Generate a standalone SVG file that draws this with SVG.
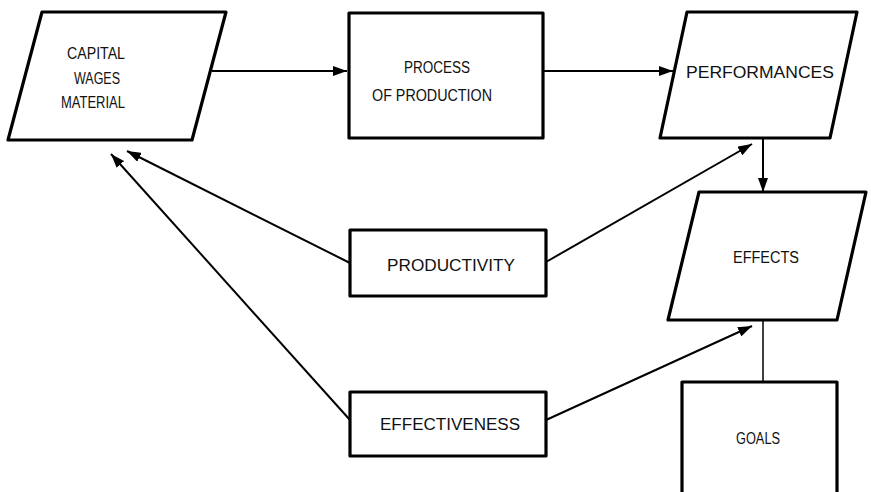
<svg xmlns="http://www.w3.org/2000/svg" width="871" height="492" viewBox="0 0 871 492">
<style>
.box{fill:#fff;stroke:#000;stroke-width:3.2;stroke-linejoin:round}
.lbl{font-family:"Liberation Sans","DejaVu Sans",sans-serif;font-size:16px;fill:#111;text-anchor:middle}
.con{fill:none;stroke:#000;stroke-width:2}
.thin{fill:none;stroke:#000;stroke-width:1.5}
</style>
<defs>
<marker id="ah" viewBox="0 0 14 10" refX="14" refY="5" markerWidth="14" markerHeight="10" markerUnits="userSpaceOnUse" orient="auto">
<path d="M0,0 L14,5 L0,10 z" fill="#000"/>
</marker>
</defs>
<rect width="871" height="492" fill="#fff"/>
<g id="connectors">
<line class="con" x1="212" y1="71" x2="347" y2="71" marker-end="url(#ah)"/>
<line class="con" x1="543" y1="71" x2="673" y2="71" marker-end="url(#ah)"/>
<line class="con" x1="763" y1="138" x2="763" y2="192" marker-end="url(#ah)"/>
<line class="thin" x1="763" y1="320" x2="763" y2="382"/>
<line class="con" x1="350" y1="263" x2="127" y2="151" marker-end="url(#ah)"/>
<line class="con" x1="350" y1="420" x2="111" y2="154" marker-end="url(#ah)"/>
<line class="con" x1="546" y1="262" x2="752" y2="144" marker-end="url(#ah)"/>
<line class="con" x1="546" y1="420" x2="752" y2="326" marker-end="url(#ah)"/>
</g>
<g id="capital">
<polygon class="box" points="42,12 226,12 192,140 8,140"/>
<text class="lbl" x="96" y="59" textLength="58" lengthAdjust="spacingAndGlyphs">CAPITAL</text>
<text class="lbl" x="97" y="84" textLength="46" lengthAdjust="spacingAndGlyphs">WAGES</text>
<text class="lbl" x="93" y="108" textLength="64" lengthAdjust="spacingAndGlyphs">MATERIAL</text>
</g>
<g id="process">
<rect class="box" x="349" y="13" width="194" height="125"/>
<text class="lbl" x="437" y="73" textLength="66" lengthAdjust="spacingAndGlyphs">PROCESS</text>
<text class="lbl" x="432" y="101" textLength="120" lengthAdjust="spacingAndGlyphs">OF PRODUCTION</text>
</g>
<g id="performances">
<polygon class="box" points="687,12 857,12 830,138 660,138"/>
<text class="lbl" x="760" y="78" textLength="148" lengthAdjust="spacingAndGlyphs">PERFORMANCES</text>
</g>
<g id="effects">
<polygon class="box" points="699,192 866,192 837,320 668,320"/>
<text class="lbl" x="766" y="263" textLength="66" lengthAdjust="spacingAndGlyphs">EFFECTS</text>
</g>
<g id="goals">
<rect class="box" x="682" y="382" width="155" height="130"/>
<text class="lbl" x="758" y="444" textLength="44" lengthAdjust="spacingAndGlyphs">GOALS</text>
</g>
<g id="productivity">
<rect class="box" x="350" y="230" width="196" height="66"/>
<text class="lbl" x="451" y="271" textLength="128" lengthAdjust="spacingAndGlyphs">PRODUCTIVITY</text>
</g>
<g id="effectiveness">
<rect class="box" x="350" y="392" width="196" height="64"/>
<text class="lbl" x="450" y="430" textLength="140" lengthAdjust="spacingAndGlyphs">EFFECTIVENESS</text>
</g>
</svg>
